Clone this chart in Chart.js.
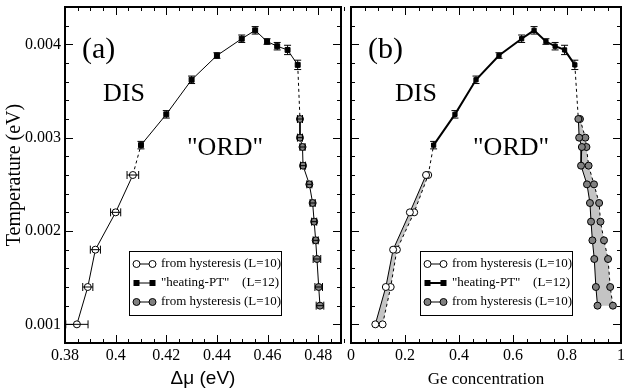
<!DOCTYPE html>
<html>
<head>
<meta charset="utf-8">
<script src="https://cdn.jsdelivr.net/npm/chart.js@4.4.1/dist/chart.umd.min.js"></script>
<style>
  html, body { margin: 0; padding: 0; background: #fff; }
  #wrap { position: relative; width: 626px; height: 392px; }
  #chartA { position: absolute; left: 0; top: 0; }
  #chartB { position: absolute; left: 346px; top: 0; }
</style>
</head>
<body>
<div id="wrap">
  <canvas id="chartA" width="346" height="392"></canvas>
  <canvas id="chartB" width="280" height="392"></canvas>
</div>
<script>
// Temperatures (eV)
const tempHyst = [0.001, 0.0014, 0.0018, 0.0022, 0.0026];
const tempHeat = [0.00292, 0.00325, 0.00362, 0.00388, 0.00406, 0.00415, 0.00403, 0.00398, 0.00394, 0.00378];
const tempHeatErr = [0.00004, 0.00004, 0.00004, 0.00003, 0.00004, 0.00004, 0.00003, 0.00004, 0.00005, 0.00005];
const tempOrd = [0.0032, 0.0030, 0.0029, 0.0027, 0.0025, 0.0023, 0.0021, 0.0019, 0.0017, 0.0014, 0.0012];

// Panel (a): delta mu (eV)
const dmuHyst = [0.3847, 0.389, 0.392, 0.40, 0.4068];
const dmuHystErr = [0.0044, 0.002, 0.002, 0.002, 0.0023];
const dmuHeat = [0.41, 0.42, 0.43, 0.44, 0.4498, 0.4551, 0.4598, 0.4638, 0.4679, 0.4719];
const dmuOrd = [0.4728, 0.4728, 0.4738, 0.474, 0.4765, 0.4778, 0.4784, 0.479, 0.4795, 0.4802, 0.4807];
const dmuOrdErr = [0.001, 0.001, 0.001, 0.001, 0.001, 0.001, 0.001, 0.001, 0.0015, 0.0015, 0.0015];

// Panel (b): Ge concentration, two branches
const geHystLo = [0.09, 0.129, 0.156, 0.218, 0.278];
const geHystHi = [0.117, 0.147, 0.170, 0.234, 0.286];
const geHeat = [0.306, 0.385, 0.463, 0.548, 0.632, 0.678, 0.722, 0.756, 0.791, 0.829];
const geOrdLo = [0.842, 0.845, 0.855, 0.852, 0.874, 0.885, 0.889, 0.894, 0.901, 0.907, 0.913];
const geOrdHi = [0.848, 0.868, 0.872, 0.880, 0.900, 0.919, 0.924, 0.937, 0.952, 0.960, 0.970];

// Tick labels
const xTicksA = [0.38, 0.40, 0.42, 0.44, 0.46, 0.48];
const xTicksB = [0, 0.2, 0.4, 0.6, 0.8, 1];
const yTicks = [0.001, 0.002, 0.003, 0.004];

const serif = "'Liberation Serif', 'Times New Roman', serif";
const GRAY = '#808080';

const pts = (xs, ys) => xs.map((v, i) => ({x: v, y: ys[i]}));
const fmt = v => String(+v.toFixed(4));

// error bars drawn from dataset errX / errY arrays
const errorBars = {
    id: 'errorBars',
    afterDatasetsDraw(chart) {
        const {ctx, scales: {x, y}} = chart;
        ctx.save();
        ctx.strokeStyle = '#000';
        ctx.lineWidth = 1;
        chart.data.datasets.forEach(ds => {
            if (!ds.errX && !ds.errY) return;
            ds.data.forEach((p, j) => {
                const px = x.getPixelForValue(p.x), py = y.getPixelForValue(p.y);
                ctx.beginPath();
                if (ds.errX) {
                    const x0 = x.getPixelForValue(p.x - ds.errX[j]);
                    const x1 = x.getPixelForValue(p.x + ds.errX[j]);
                    ctx.moveTo(x0, py); ctx.lineTo(x1, py);
                    ctx.moveTo(x0, py - 4); ctx.lineTo(x0, py + 4);
                    ctx.moveTo(x1, py - 4); ctx.lineTo(x1, py + 4);
                }
                if (ds.errY) {
                    const y0 = y.getPixelForValue(p.y - ds.errY[j]);
                    const y1 = y.getPixelForValue(p.y + ds.errY[j]);
                    ctx.moveTo(px, y0); ctx.lineTo(px, y1);
                    ctx.moveTo(px - 3.5, y0); ctx.lineTo(px + 3.5, y0);
                    ctx.moveTo(px - 3.5, y1); ctx.lineTo(px + 3.5, y1);
                }
                ctx.stroke();
            });
        });
        ctx.restore();
    }
};

// frame, inward ticks, legend box and text labels
const decor = {
    id: 'decor',
    afterDraw(chart, args, o) {
        const {ctx, chartArea: a, scales: {x, y}} = chart;
        ctx.save();
        ctx.strokeStyle = '#000';
        ctx.lineWidth = 1;
        const seg = (x0, y0, x1, y1) => { ctx.beginPath(); ctx.moveTo(x0, y0); ctx.lineTo(x1, y1); ctx.stroke(); };
        const isMajor = (v, step) => Math.abs(v / step - Math.round(v / step)) < 1e-6;

        let n = Math.round((x.max - x.min) / o.xMinor);
        for (let i = 0; i <= n; i++) {
            const v = x.min + i * o.xMinor;
            const len = isMajor(v, o.xMajor) ? 8 : 4;
            const px = Math.round(x.getPixelForValue(v)) + 0.5;
            seg(px, a.bottom, px, a.bottom - len);
            seg(px, a.top, px, a.top + len);
        }
        n = Math.round((y.max - y.min) / 0.0002);
        for (let i = 0; i <= n; i++) {
            const v = y.min + i * 0.0002;
            const len = isMajor(v, 0.001) ? 8 : 4;
            const py = Math.round(y.getPixelForValue(v)) + 0.5;
            seg(a.left, py, a.left + len, py);
            seg(a.right, py, a.right - len, py);
        }
        ctx.lineWidth = 2;
        ctx.strokeRect(a.left, a.top, a.right - a.left, a.bottom - a.top);

        // text labels
        ctx.fillStyle = '#000';
        ctx.textBaseline = 'alphabetic';
        ctx.textAlign = 'left';
        o.labels.forEach(l => {
            ctx.font = l.size + 'px ' + serif;
            ctx.fillText(l.text, l.x, l.y);
        });

        // legend
        const b = o.legend;
        ctx.lineWidth = 1;
        ctx.fillStyle = '#fff';
        ctx.fillRect(b.x, b.y, b.w, b.h);
        ctx.strokeRect(b.x + 0.5, b.y + 0.5, b.w, b.h);
        const rows = [
            {kind: 'open', text: 'from hysteresis (L=10)'},
            {kind: 'square', text: '"heating-PT"', right: '(L=12)'},
            {kind: 'gray', text: 'from hysteresis (L=10)'}
        ];
        ctx.font = '13px ' + serif;
        ctx.textBaseline = 'middle';
        rows.forEach((r, i) => {
            const ry = b.y + 13 + i * 19;
            const x0 = b.x + 7.5, x1 = b.x + 23.5;
            ctx.lineWidth = r.kind === 'square' ? b.sqLine : 1;
            seg(x0, ry, x1, ry);
            ctx.lineWidth = 1;
            [x0, x1].forEach(cx => {
                if (r.kind === 'square') {
                    ctx.fillStyle = '#000';
                    ctx.fillRect(cx - 3, ry - 3, 6, 6);
                } else {
                    ctx.beginPath();
                    ctx.arc(cx, ry, 3.5, 0, Math.PI * 2);
                    ctx.fillStyle = r.kind === 'gray' ? GRAY : '#fff';
                    ctx.fill();
                    ctx.stroke();
                }
            });
            ctx.fillStyle = '#000';
            ctx.textAlign = 'left';
            ctx.fillText(r.text, b.x + 32, ry);
            if (r.right) {
                ctx.textAlign = 'right';
                ctx.fillText(r.right, b.x + b.w - 2, ry);
            }
        });
        ctx.restore();
    }
};

function yScale(show) {
    return {
        type: 'linear',
        min: 0.0008,
        max: 0.0044,
        grid: {display: false, drawTicks: false},
        border: {display: false},
        afterBuildTicks: s => { s.ticks = yTicks.map(v => ({value: v})); },
        afterFit: s => { s.width = show ? 65 : 3; s.paddingTop = 0; s.paddingBottom = 0; },
        ticks: {
            display: show,
            padding: 4,
            color: '#000',
            font: {family: serif, size: 16},
            callback: fmt
        },
        title: {
            display: show,
            text: 'Temperature (eV)',
            color: '#000',
            font: {family: serif, size: 20},
            padding: {top: 3, bottom: 0}
        }
    };
}

function xScale(min, max, ticks, title, titleFont, padBottom) {
    return {
        type: 'linear',
        min: min,
        max: max,
        grid: {display: false, drawTicks: false},
        border: {display: false},
        afterBuildTicks: s => { s.ticks = ticks.map(v => ({value: v})); },
        afterFit: s => { s.height = 49; s.paddingLeft = 0; s.paddingRight = 0; },
        ticks: {
            padding: 3,
            color: '#000',
            font: {family: serif, size: 16},
            callback: fmt
        },
        title: {
            display: true,
            text: title,
            color: '#000',
            font: titleFont,
            padding: {top: 0, bottom: padBottom}
        }
    };
}

const baseLine = {showLine: true, tension: 0, borderColor: '#000', borderWidth: 1, pointBorderColor: '#000', pointBorderWidth: 1};

// ---------- Panel (a) ----------
const hystA = pts(dmuHyst, tempHyst);
const heatA = pts(dmuHeat, tempHeat);
const ordA = pts(dmuOrd, tempOrd);

new Chart(document.getElementById('chartA'), {
    type: 'scatter',
    data: {
        datasets: [
            Object.assign({}, baseLine, {label: 'hyst', data: hystA, errX: dmuHystErr, pointStyle: 'circle', pointRadius: 3.5, pointBackgroundColor: '#fff'}),
            Object.assign({}, baseLine, {label: 'heat', data: heatA, errY: tempHeatErr, pointStyle: 'rect', pointRadius: 3.5, pointBackgroundColor: '#000'}),
            Object.assign({}, baseLine, {label: 'ord', data: ordA, errX: dmuOrdErr, pointStyle: 'circle', pointRadius: 3.5, pointBackgroundColor: GRAY}),
            Object.assign({}, baseLine, {label: 'link1', data: [hystA[hystA.length - 1], heatA[0]], borderDash: [3, 3], pointRadius: 0, order: 5}),
            Object.assign({}, baseLine, {label: 'link2', data: [heatA[heatA.length - 1], ordA[0]], borderDash: [3, 3], pointRadius: 0, order: 5})
        ]
    },
    options: {
        animation: false,
        responsive: false,
        layout: {padding: {top: 7, right: 2, left: 0, bottom: 0}},
        plugins: {
            legend: {display: false},
            tooltip: {enabled: false},
            decor: {
                xMinor: 0.005, xMajor: 0.02,
                labels: [
                    {text: '(a)', x: 82, y: 58, size: 30},
                    {text: 'DIS', x: 103, y: 101, size: 26},
                    {text: '"ORD"', x: 187, y: 155, size: 26}
                ],
                legend: {x: 129, y: 251, w: 152, h: 64, sqLine: 1}
            }
        },
        scales: {
            x: xScale(0.38, 0.489, xTicksA, 'Δμ (eV)', {family: "'Liberation Sans', Arial, sans-serif", size: 19}, 2),
            y: yScale(true)
        }
    },
    plugins: [errorBars, decor]
});

// ---------- Panel (b) ----------
const hystLoB = pts(geHystLo, tempHyst);
const hystHiB = pts(geHystHi, tempHyst);
const heatB = pts(geHeat, tempHeat);
const ordLoB = pts(geOrdLo, tempOrd);
const ordHiB = pts(geOrdHi, tempOrd);
const band = (lo, hi) => lo.concat(hi.slice().reverse());

new Chart(document.getElementById('chartB'), {
    type: 'scatter',
    data: {
        datasets: [
            {label: 'hystBand', data: band(hystLoB, hystHiB), showLine: true, tension: 0, borderWidth: 0, pointRadius: 0, backgroundColor: '#c4c4c4', fill: 'shape', order: 10},
            {label: 'ordBand', data: band(ordLoB, ordHiB), showLine: true, tension: 0, borderWidth: 0, pointRadius: 0, backgroundColor: '#c4c4c4', fill: 'shape', order: 10},
            Object.assign({}, baseLine, {label: 'hystLo', data: hystLoB, pointStyle: 'circle', pointRadius: 3.5, pointBackgroundColor: '#fff'}),
            Object.assign({}, baseLine, {label: 'hystHi', data: hystHiB, borderDash: [3, 3], pointStyle: 'circle', pointRadius: 3.5, pointBackgroundColor: '#fff'}),
            Object.assign({}, baseLine, {label: 'heat', data: heatB, errY: tempHeatErr, borderWidth: 2, pointStyle: 'rect', pointRadius: 3, pointBackgroundColor: '#000'}),
            Object.assign({}, baseLine, {label: 'ordLo', data: ordLoB, pointStyle: 'circle', pointRadius: 3.5, pointBackgroundColor: GRAY}),
            Object.assign({}, baseLine, {label: 'ordHi', data: ordHiB, borderDash: [3, 3], pointStyle: 'circle', pointRadius: 3.5, pointBackgroundColor: GRAY}),
            Object.assign({}, baseLine, {label: 'link1', data: [hystHiB[hystHiB.length - 1], heatB[0]], borderDash: [3, 3], pointRadius: 0, order: 5}),
            Object.assign({}, baseLine, {label: 'link2', data: [heatB[heatB.length - 1], ordLoB[0]], borderDash: [3, 3], pointRadius: 0, order: 5})
        ]
    },
    options: {
        animation: false,
        responsive: false,
        layout: {padding: {top: 7, right: 1, left: 0, bottom: 0}},
        plugins: {
            legend: {display: false},
            tooltip: {enabled: false},
            decor: {
                xMinor: 0.05, xMajor: 0.2,
                labels: [
                    {text: '(b)', x: 22, y: 58, size: 30},
                    {text: 'DIS', x: 49, y: 101, size: 26},
                    {text: '"ORD"', x: 127, y: 155, size: 26}
                ],
                legend: {x: 74, y: 251, w: 152, h: 64, sqLine: 2}
            }
        },
        scales: {
            x: xScale(0, 1, xTicksB, 'Ge concentration', {family: serif, size: 17}, 2),
            y: yScale(false)
        }
    },
    plugins: [errorBars, decor]
});
</script>
</body>
</html>
